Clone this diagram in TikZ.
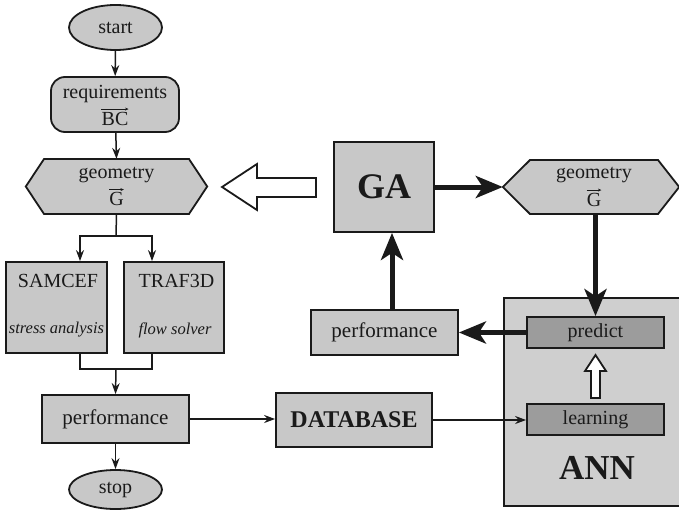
\documentclass[tikz,border=0pt]{standalone}
\usepackage{fontspec}
\setmainfont{Liberation Serif}
\usetikzlibrary{shapes.geometric,arrows.meta,calc}

\definecolor{boxfill}{HTML}{C8C8C8}
\definecolor{annfill}{HTML}{CFCFCF}
\definecolor{darkfill}{HTML}{9C9C9C}
\definecolor{ink}{HTML}{1A1A1A}

\newcommand{\fsz}[1]{\fontsize{#1}{#1}\selectfont}

\tikzset{
  box/.style={draw=ink, line width=1.8pt, fill=boxfill, inner sep=0pt,
              font=\fsz{20}, text=ink},
  oval/.style={box, ellipse},
  darkbox/.style={box, fill=darkfill, minimum width=137pt, minimum height=31pt},
  hexbox/.style={inner sep=0pt},
  label20/.style={inner sep=0pt, font=\fsz{20}, text=ink},
  vecbar/.style={draw=ink, line width=0.7pt, -{Stealth[length=3.5pt,width=3pt]}},
  flow/.style={draw=ink, line width=1.5pt, -{Stealth[length=11pt,width=8pt]}},
  plain/.style={draw=ink, line width=1.5pt},
  bold/.style={draw=ink, line width=5pt, -{Stealth[length=27pt,width=22pt,inset=7pt]}},
  hollow/.style={draw=ink, line width=1.8pt, fill=white, line join=miter},
}

\begin{document}
\begin{tikzpicture}[x=1pt, y=-1pt]
  \useasboundingbox (0,0) rectangle (679,511);

  % ---------------- left column: design loop ----------------
  \node[oval, minimum width=93pt, minimum height=45pt] (start) at (115.5,27.5) {start};
  \node[box, rounded corners=14pt, minimum width=128pt, minimum height=55pt] (req) at (115,104.5) {};
  \node[label20] (reqA) at (115,94) {requirements};
  \node[label20] (reqB) at (115,118.5) {BC};
  \draw[vecbar] ([yshift=2.5pt]reqB.north west) -- ([yshift=2.5pt]reqB.north east);

  \node[hexbox, minimum width=181pt, minimum height=55pt] (geoL) at (116.5,186.5) {};
  \filldraw[fill=boxfill, draw=ink, line width=1.8pt, line join=miter]
    (geoL.west) -- (44,159) -- (189,159) -- (geoL.east) -- (189,214) -- (44,214) -- cycle;
  \node[label20] (geoLA) at (116.5,175) {geometry};
  \node[label20] (geoLB) at (116.5,199) {G};
  \draw[vecbar] ([yshift=2.5pt]geoLB.north west) -- ([yshift=2.5pt]geoLB.north east);

  \node[box, minimum width=101pt, minimum height=91pt] (sam) at (56.5,307.5) {};
  \node[label20] (samT) at (58,281) {SAMCEF};
  \node[label20, font=\fsz{16.5}\itshape] (samS) at (56.5,330) {stress analysis};

  \node[box, minimum width=100pt, minimum height=91pt] (traf) at (174,307.5) {};
  \node[label20] (trafT) at (176.5,281) {TRAF3D};
  \node[label20, font=\fsz{16.5}\itshape] (trafS) at (175,330) {flow solver};

  \node[box, minimum width=147pt, minimum height=48pt, font=\fsz{21}] (perfL) at (115.5,419) {performance};
  \node[oval, minimum width=93pt, minimum height=39pt] (stop) at (115.5,489.5) {stop};

  \draw[flow] (start) -- (req);
  \draw[flow] (req) -- (geoL.north);

  \coordinate (fork) at (116,236);
  \draw[plain] (geoL.south) -- (fork);
  \draw[flow] (fork) -| ([xshift=23.5pt]sam.north);
  \draw[flow] (fork) -| ([xshift=-22pt]traf.north);

  \coordinate (join) at (116,369);
  \draw[plain] ([xshift=23.5pt]sam.south) |- (join);
  \draw[plain] ([xshift=-22pt]traf.south) |- (join);
  \draw[flow] (join) -- (perfL.north);
  \draw[flow] (perfL) -- (stop);

  % ---------------- database and surrogate ----------------
  \node[box, minimum width=156pt, minimum height=54pt, font=\fsz{24}\bfseries] (db) at (354,420) {DATABASE};

  \node[box, fill=annfill, minimum width=178pt, minimum height=208pt] (ann) at (593,402) {};
  \node[font=\fsz{35}\bfseries, text=ink] (annT) at (597,468) {ANN};
  \node[darkbox] (pred) at (595.5,332.5) {predict};
  \node[darkbox] (learn) at (595.5,419.5) {learning};

  \draw[flow] (perfL.east) -- (db.west |- perfL.east);
  \draw[flow] (db.east) -- (learn.west |- db.east);

  % hollow arrow learning -> predict
  \filldraw[hollow] (595.5,355) -- (606,371) -- (600,371) -- (600,398)
    -- (591,398) -- (591,371) -- (585,371) -- cycle;

  % ---------------- optimiser loop ----------------
  \node[box, minimum width=100pt, minimum height=90pt, font=\fsz{36}\bfseries] (ga) at (384,187) {GA};
  \node[box, minimum width=147pt, minimum height=45pt, font=\fsz{21}] (perfR) at (384.5,332.5) {performance};

  \node[hexbox, minimum width=176pt, minimum height=54pt] (geoR) at (591,187) {};
  \filldraw[fill=boxfill, draw=ink, line width=1.8pt, line join=miter]
    (geoR.west) -- (530,160) -- (658,160) -- (geoR.east) -- (658,214) -- (530,214) -- cycle;
  \node[label20] (geoRA) at (594,175) {geometry};
  \node[label20] (geoRB) at (594,199.5) {G};
  \draw[vecbar] ([yshift=2.5pt]geoRB.north west) -- ([yshift=2.5pt]geoRB.north east);

  \draw[bold] (ga.east) -- (geoR.west);
  \draw[bold] (pred.north |- geoR.south) -- (pred.north);
  \draw[bold] (pred.west) -- (perfR.east);
  \draw[bold] ([xshift=7.5pt]perfR.north) -- ([xshift=7.5pt]perfR.north |- ga.south);

  % big hollow arrow GA -> left geometry
  \filldraw[hollow] (222,187) -- (257,164) -- (257,178) -- (316,178)
    -- (316,197) -- (257,197) -- (257,210) -- cycle;
\end{tikzpicture}
\end{document}
